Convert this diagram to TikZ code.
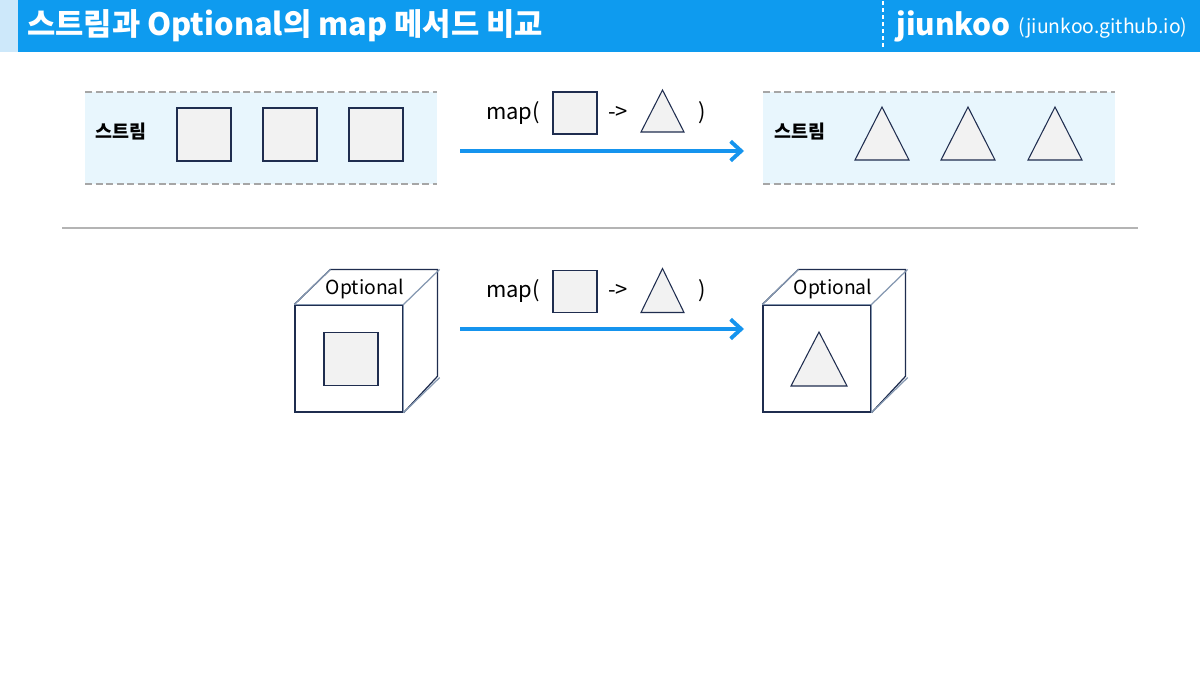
\documentclass[tikz,border=0pt]{standalone}
\usepackage{fontspec}
\setmainfont{Noto Sans CJK KR}
\usepackage{tikz}
\usetikzlibrary{arrows.meta,positioning}

\definecolor{headblue}{HTML}{0E9BEF}
\definecolor{headlight}{HTML}{CDE8FA}
\definecolor{bandfill}{HTML}{E8F6FD}
\definecolor{dashgray}{HTML}{A6A6A6}
\definecolor{shapefill}{HTML}{F2F2F2}
\definecolor{navy}{HTML}{1F2D4F}
\definecolor{edgegray}{HTML}{8497B0}
\definecolor{arrowblue}{HTML}{1594EE}
\definecolor{rulegray}{HTML}{B4B4B4}

% triangle centred at (#1,#2), half width #3, half height #4
\newcommand{\trishape}[4]{%
  \draw[shapeline] (#1,#2) ++(0,{-#4}) -- ++({#3},{2*#4}) -- ++({-2*#3},0) -- cycle;}

\begin{document}
\begin{tikzpicture}[x=0.02cm,y=-0.02cm]
  \tikzstyle{shapeline} = [draw=navy, fill=shapefill, line width=0.6pt]
  \tikzstyle{bigsq} = [shapeline, rectangle, minimum width=1.08cm, minimum height=1.06cm, inner sep=0pt]
  \tikzstyle{smallsq} = [shapeline, rectangle, minimum width=0.88cm, minimum height=0.84cm, inner sep=0pt]
  \tikzstyle{band} = [fill=bandfill]
  \tikzstyle{bandedge} = [dashgray, line width=1.2pt, dash pattern=on 4pt off 2pt]
  \tikzstyle{maparrow} = [arrowblue, line width=2.2pt, -{Straight Barb[length=6pt,width=11pt,line width=2.2pt]}]
  \tikzstyle{maptext} = [font=\fontsize{12.5}{14}\selectfont, inner sep=0pt]
  \tikzstyle{streamlabel} = [font=\fontsize{10.5}{12}\selectfont\bfseries, inner sep=0pt]
  \tikzstyle{cubetext} = [font=\fontsize{11}{13}\selectfont, inner sep=0pt]
  \tikzstyle{cubefront} = [draw=navy, fill=white, line width=0.7pt, minimum width=2.16cm, minimum height=2.14cm, inner sep=0pt]

  \useasboundingbox (0,0) rectangle (1200,675);
  \fill[white] (0,0) rectangle (1200,675);

  % header
  \fill[headlight] (0,0) rectangle (18,52);
  \fill[headblue] (18,0) rectangle (1200,52);
  \draw[white, line width=1.4pt, dash pattern=on 2pt off 2pt] (883,1) -- (883,49);
  \node[anchor=west, text=white, font=\fontsize{17.5}{20}\selectfont\bfseries, inner sep=0pt] (title) at (27,26) {스트림과 Optional의 map 메서드 비교};
  \node[anchor=west, text=white, font=\fontsize{17}{20}\selectfont\bfseries, inner sep=0pt] (brand) at (896,26) {jiunkoo};
  \node[anchor=west, text=white, font=\fontsize{11}{13}\selectfont, inner sep=0pt] (site) at (1018,28) {(jiunkoo.github.io)};

  % stream bands
  \fill[band] (85,92) rectangle (437,184);
  \draw[bandedge] (85,92) -- (437,92);
  \draw[bandedge] (85,184) -- (437,184);
  \fill[band] (763,92) rectangle (1115,184);
  \draw[bandedge] (763,92) -- (1115,92);
  \draw[bandedge] (763,184) -- (1115,184);

  \node[streamlabel] (srcname) at (121,132) {스트림};
  \node[bigsq] (sq1) at (204,134.5) {};
  \node[bigsq] (sq2) at (290,134.5) {};
  \node[bigsq] (sq3) at (376,134.5) {};

  \node[streamlabel] (dstname) at (800,132) {스트림};
  \trishape{882}{133.5}{27}{26.5}
  \trishape{968}{133.5}{27}{26.5}
  \trishape{1055}{133.5}{27}{26.5}

  % map label (top)
  \node[maptext] (mapA) at (513,113) {map(};
  \node[smallsq] (insqA) at (575,113) {};
  \node[maptext] (toA) at (618,113) {->};
  \trishape{662.5}{111}{21.5}{21}
  \node[maptext] (closeA) at (702,113) {)};
  \coordinate (arrA1) at (460,151);
  \coordinate (arrA2) at (744,151);
  \draw[maparrow] (arrA1) -- (arrA2);

  % separator
  \draw[rulegray, line width=1.2pt] (62,228) -- (1138,228);

  % left cube
  \node[cubefront] (cubeL) at (349,358.5) {};
  \draw[navy, line width=0.7pt] (cubeL.north west) -- ++(36,-35) -- ++(107,0) -- ++(0,107) -- (cubeL.south east);
  \draw[edgegray, line width=0.9pt] (cubeL.north west) -- (cubeL.north east) -- (cubeL.south east);
  \draw[edgegray, line width=0.7pt] (cubeL.north west) -- ++(36,-35);
  \draw[edgegray, line width=0.7pt] (cubeL.north east) -- ++(36,-35);
  \draw[edgegray, line width=0.7pt] (cubeL.south east) -- ++(36,-35);
  \node[cubetext] (optL) at (365,289) {Optional};
  \node[bigsq] (insqL) at (351,359) {};

  % map label (bottom)
  \node[maptext] (mapB) at (513,291) {map(};
  \node[smallsq] (insqB) at (575,291.5) {};
  \node[maptext] (toB) at (618,291) {->};
  \trishape{662.5}{290.5}{21.5}{22}
  \node[maptext] (closeB) at (702,291) {)};
  \coordinate (arrB1) at (460,329);
  \coordinate (arrB2) at (744,329);
  \draw[maparrow] (arrB1) -- (arrB2);

  % right cube
  \node[cubefront] (cubeR) at (817,358.5) {};
  \draw[navy, line width=0.7pt] (cubeR.north west) -- ++(36,-35) -- ++(107,0) -- ++(0,107) -- (cubeR.south east);
  \draw[edgegray, line width=0.9pt] (cubeR.north west) -- (cubeR.north east) -- (cubeR.south east);
  \draw[edgegray, line width=0.7pt] (cubeR.north west) -- ++(36,-35);
  \draw[edgegray, line width=0.7pt] (cubeR.north east) -- ++(36,-35);
  \draw[edgegray, line width=0.7pt] (cubeR.south east) -- ++(36,-35);
  \node[cubetext] (optR) at (833,289) {Optional};
  \trishape{819}{359}{28}{27}
\end{tikzpicture}
\end{document}
